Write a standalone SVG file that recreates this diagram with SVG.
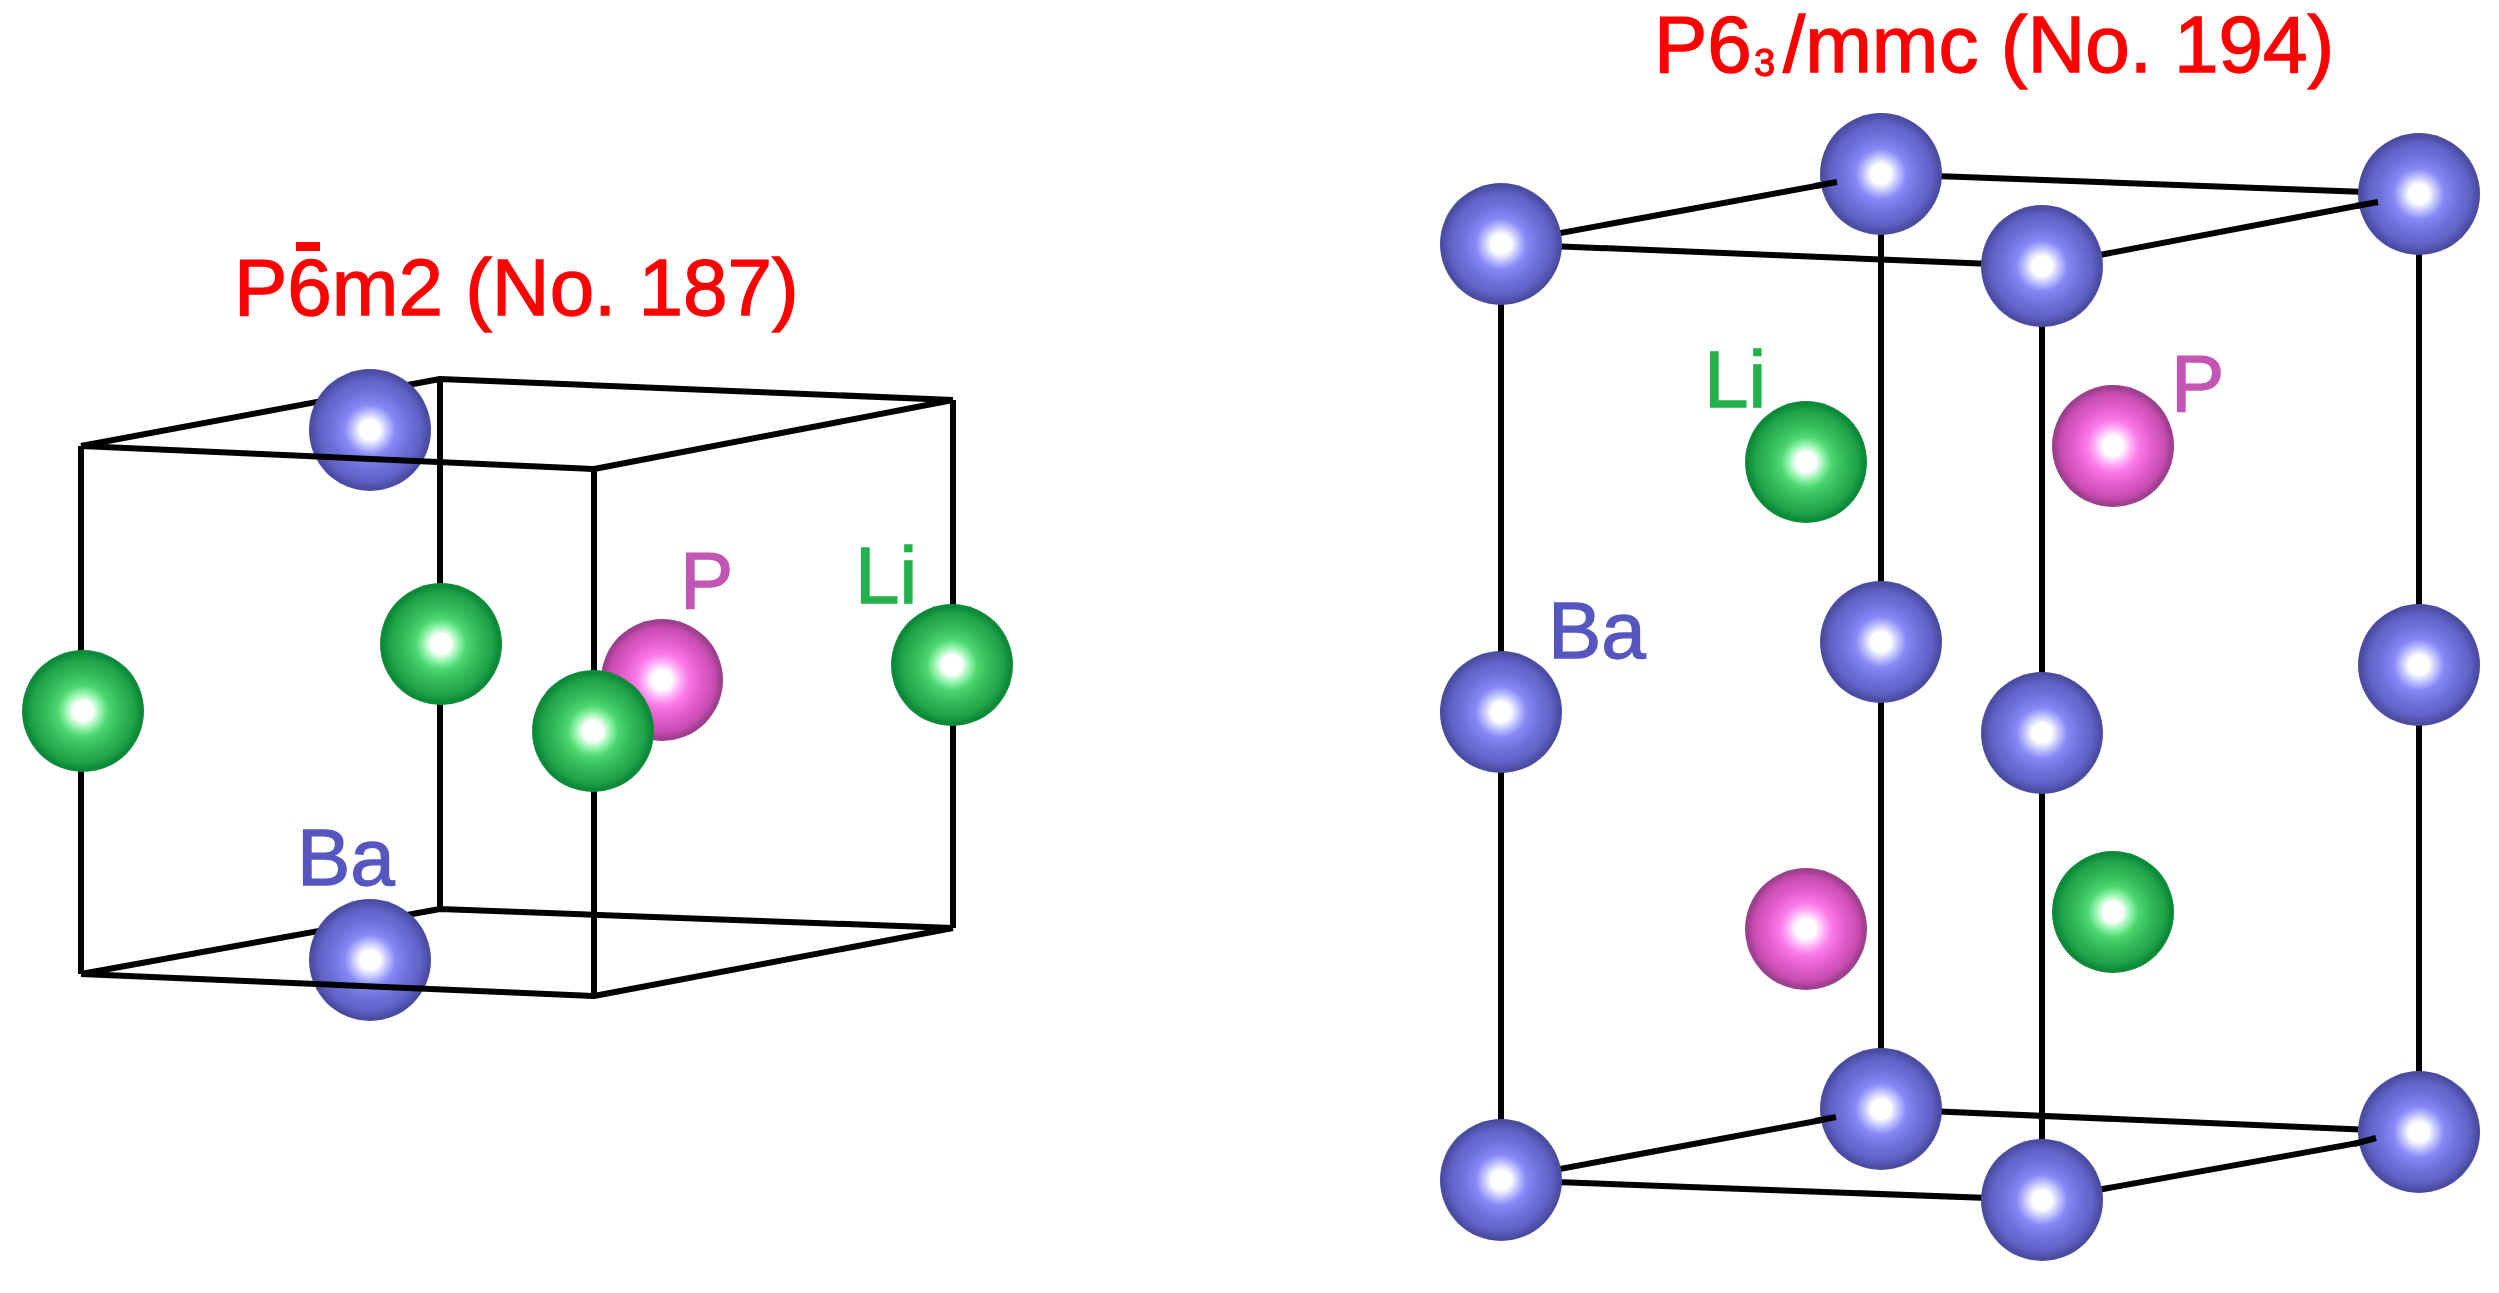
<svg xmlns="http://www.w3.org/2000/svg" width="2499" height="1293" viewBox="0 0 2499 1293">
<style>
.e{stroke:#000;stroke-width:6;fill:none;stroke-linejoin:round}
text{font-family:"Liberation Sans",Arial,sans-serif;font-size:80px;stroke-width:1.3px}
.t{fill:#f00;stroke:#f00}.lp{fill:#c355b5;stroke:#c355b5}.ll{fill:#22b24c;stroke:#22b24c}.lb{fill:#5557bf;stroke:#5557bf}
</style>
<defs>
<filter id="s" x="0" y="0" width="1" height="1" filterUnits="objectBoundingBox"><feGaussianBlur stdDeviation="0.7"/></filter>
<radialGradient id="ba"><stop offset="0" stop-color="#fff"/><stop offset=".16" stop-color="#fff"/><stop offset=".3" stop-color="#babcff"/><stop offset=".42" stop-color="#8688f6"/><stop offset=".62" stop-color="#7072dc"/><stop offset=".83" stop-color="#6062c6"/><stop offset=".95" stop-color="#4c4ea6"/><stop offset="1" stop-color="#4a4c9e"/></radialGradient>
<radialGradient id="li"><stop offset="0" stop-color="#fff"/><stop offset=".16" stop-color="#fff"/><stop offset=".3" stop-color="#8cf2a6"/><stop offset=".42" stop-color="#4cd66f"/><stop offset=".62" stop-color="#34ba5a"/><stop offset=".84" stop-color="#20a34a"/><stop offset=".95" stop-color="#0e8a38"/><stop offset="1" stop-color="#128a3c"/></radialGradient>
<radialGradient id="p"><stop offset="0" stop-color="#fff"/><stop offset=".16" stop-color="#fff"/><stop offset=".3" stop-color="#ffb0f6"/><stop offset=".43" stop-color="#fb78e8"/><stop offset=".65" stop-color="#e25ccc"/><stop offset=".86" stop-color="#c84cb0"/><stop offset=".95" stop-color="#a04092"/><stop offset="1" stop-color="#9a3e8c"/></radialGradient>
<circle id="A" r="61" fill="url(#ba)"/><circle id="L" r="61" fill="url(#li)"/><circle id="Q" r="61" fill="url(#p)"/>
</defs>
<g filter="url(#s)">
<g id="connectors-back">
<path class="e" d="M81 446L440 379L953 400M440 379V909M81 974L440 909L953 928"/>
<path class="e" d="M81 446V974M953 400V928"/>
<path class="e" d="M1501 244L1881 174L2419 194M1881 174V1109M1501 1180L1881 1109L2419 1132M1501 244V1180M2419 194V1132M2042 266V1200"/>
</g>
<g id="atoms-left">
<g id="L-Ba1"><use href="#A" x="370" y="430"/></g>
<g id="L-Ba2"><use href="#A" x="370" y="960"/></g>
<g id="L-Li1"><use href="#L" x="83" y="711"/></g>
<g id="L-Li2"><use href="#L" x="441" y="644"/></g>
<g id="L-Li3"><use href="#L" x="952" y="665"/></g>
</g>
<g id="connectors-front">
<path class="e" d="M81 446L594 469L953 400M594 469V996M81 974L594 996L953 928"/>
<path class="e" d="M1501 244L2042 266L2419 194M1501 1180L2042 1200L2419 1132"/>
</g>
<g id="atoms-left-front">
<g id="L-P"><use href="#Q" x="662" y="680"/></g>
<g id="L-Li4"><use href="#L" x="593" y="731"/></g>
</g>
<g id="atoms-right">
<g id="R-Ba1"><use href="#A" x="1501" y="244"/></g>
<g id="R-Ba2"><use href="#A" x="1881" y="174"/></g>
<g id="R-Ba3"><use href="#A" x="2419" y="194"/></g>
<g id="R-Ba4"><use href="#A" x="2042" y="266"/></g>
<g id="R-Ba5"><use href="#A" x="1501" y="712"/></g>
<g id="R-Ba6"><use href="#A" x="1881" y="642"/></g>
<g id="R-Ba7"><use href="#A" x="2419" y="665"/></g>
<g id="R-Ba8"><use href="#A" x="2042" y="733"/></g>
<g id="R-Ba9"><use href="#A" x="1501" y="1180"/></g>
<g id="R-Ba10"><use href="#A" x="1881" y="1109"/></g>
<g id="R-Ba11"><use href="#A" x="2419" y="1132"/></g>
<g id="R-Ba12"><use href="#A" x="2042" y="1200"/></g>
<g id="R-Li1"><use href="#L" x="1806" y="462"/></g>
<g id="R-P1"><use href="#Q" x="2113" y="446"/></g>
<g id="R-P2"><use href="#Q" x="1806" y="929"/></g>
<g id="R-Li2"><use href="#L" x="2113" y="912"/></g>
</g>
<g id="connector-ends">
<path class="e" d="M1815 186L1837 182M2356 206L2378 202M1815 1121L1836 1117M2354 1144L2376 1138"/>
</g>
<g id="labels">
<text class="t" x="234" y="315">P6m2 (No. 187)</text>
<rect x="296" y="242" width="24" height="9" fill="#f00"/>
<text class="lp" x="680" y="608">P</text>
<text class="ll" x="855" y="603">Li</text>
<text class="lb" x="297" y="885">Ba</text>
<text class="t" x="1654" y="72">P6<tspan x="1754" y="76" font-size="38">3</tspan><tspan x="1783" y="72">/mmc (No. 194)</tspan></text>
<text class="ll" x="1704" y="407">Li</text>
<text class="lp" x="2171" y="411">P</text>
<text class="lb" x="1548" y="658">Ba</text>
</g>
</g>
</svg>
